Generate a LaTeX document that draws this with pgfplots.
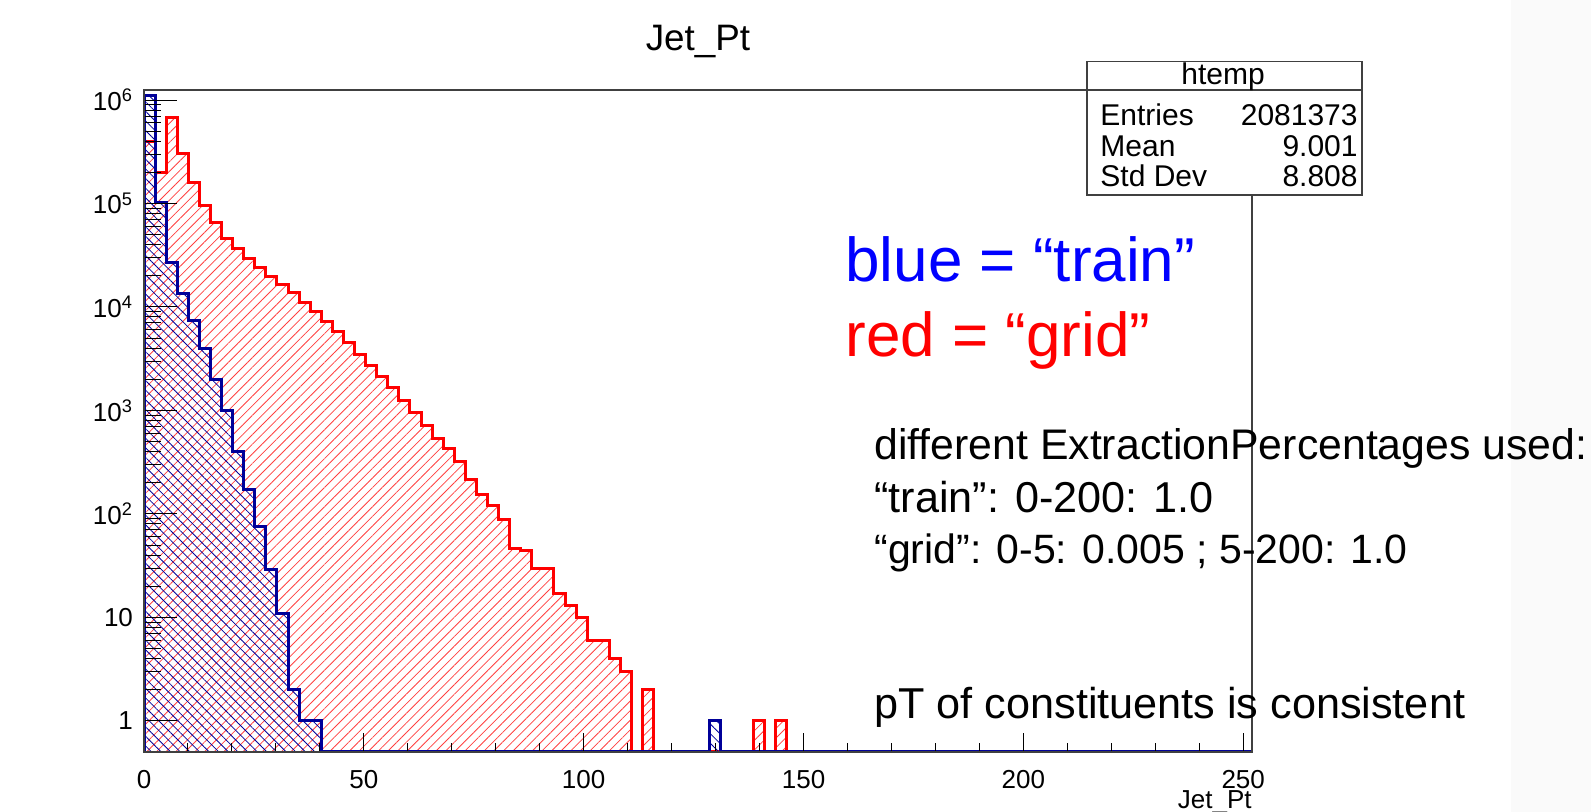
\documentclass[border=0pt]{standalone}
\usepackage{pgfplots}
\usepackage{pgfplotstable}
\pgfplotsset{compat=1.18}
\usepackage{fontspec}
\setmainfont{Liberation Sans}
\usetikzlibrary{patterns.meta}

\definecolor{rootblue}{RGB}{0,0,153}
\definecolor{rootred}{RGB}{255,0,0}
\definecolor{slideblue}{RGB}{0,0,255}

% left bin edges (100 bins over 0-252), counts per bin
\pgfplotstableread{
x y
0 0.5
0 1110000
2.52 102000
5.04 26800
7.56 13600
10.08 7450
12.6 4000
15.12 2000
17.64 990
20.16 402
22.68 172
25.2 76
27.72 29
30.24 11
32.76 2
35.28 1
37.8 1
40.32 0.5
128.52 1
131.04 0.5
252 0.5
}\traintbl

\pgfplotstableread{
x y
0 0.5
0 400000
2.52 199000
5.04 675000
7.56 301000
10.08 160000
12.6 96000
15.12 65000
17.64 46000
20.16 37000
22.68 29700
25.2 23800
27.72 19500
30.24 16400
32.76 13700
35.28 11100
37.8 9100
40.32 7300
42.84 5800
45.36 4500
47.88 3500
50.4 2740
52.92 2120
55.44 1660
57.96 1250
60.48 952
63 723
65.52 535
68.04 428
70.56 318
73.08 217
75.6 155
78.12 120
80.64 88
83.16 46
85.68 44
88.2 30
90.72 30
93.24 17
95.76 13
98.28 10
100.8 6
103.32 6
105.84 4
108.36 3
110.88 0.5
113.4 2
115.92 0.5
138.6 1
141.12 0.5
143.64 1
146.16 0.5
252 0.5
}\gridtbl

\begin{document}
\begin{tikzpicture}
\path[use as bounding box] (0pt,0pt) rectangle (795.5pt,406pt);
\fill[gray!4] (755.5pt,0pt) rectangle (795.5pt,406pt);

\begin{axis}[
  at={(72pt,30pt)}, anchor=south west,
  scale only axis, width=554pt, height=331pt,
  ymode=log, log origin y=infty,
  xmin=0, xmax=252, ymin=0.5, ymax=1.25e6,
  xtick={0,50,100,150,200,250},
  minor x tick num=4,
  ytick={1,10,100,1000,10000,100000,1000000},
  yticklabels={1,10,10\textsuperscript{2},10\textsuperscript{3},10\textsuperscript{4},10\textsuperscript{5},10\textsuperscript{6}},
  /pgf/number format/assume math mode=true,
  tick pos=left, tick align=inside,
  axis on top,
  axis line style={black!75, line width=0.6pt},
  every tick/.style={black, line width=0.5pt},
  xtick style={/pgfplots/major tick length=9.5pt, /pgfplots/minor tick length=4.5pt},
  ytick style={/pgfplots/major tick length=16.5pt, /pgfplots/minor tick length=8.5pt},
  tick label style={font=\fontsize{13}{13}\selectfont},
  xticklabel style={yshift=-5.5pt},
  yticklabel style={xshift=-2pt},
]
\addplot[const plot mark left, draw=rootred, line width=1.5pt,
  pattern={Lines[angle=45,distance=3.4pt,line width=0.4pt]}, pattern color=rootred!75]
  table {\gridtbl};
\addplot[const plot mark left, draw=rootblue, line width=1.5pt,
  pattern={Lines[angle=-45,distance=3.4pt,line width=0.4pt]}, pattern color=rootblue]
  table {\traintbl};
\end{axis}

% title and axis title
\node[font=\fontsize{18.4}{18.4}\selectfont] at (349pt,385pt) {Jet\_Pt};
\node[font=\fontsize{13}{13}\selectfont, anchor=base east, inner sep=0pt] at (626pt,1.6pt) {Jet\_Pt};

% stats box
\draw[fill=white, draw=black!75, line width=0.6pt] (543.5pt,308.5pt) rectangle (681pt,375.2pt);
\draw[black!75, line width=0.6pt] (543.5pt,361pt) -- (681pt,361pt);
\begin{scope}[every node/.style={font=\fontsize{15}{15}\selectfont, inner sep=0pt}]
\node at (611.5pt,367.5pt) {htemp};
\node[anchor=west] at (550pt,348.5pt) {Entries};
\node[anchor=west] at (550pt,333pt) {Mean};
\node[anchor=west] at (550pt,318pt) {Std Dev};
\node[anchor=east] at (679pt,348.5pt) {2081373};
\node[anchor=east] at (679pt,333pt) {9.001};
\node[anchor=east] at (679pt,318pt) {8.808};
\end{scope}

% slide annotations
\begin{scope}[every node/.style={inner sep=0pt, anchor=base west}]
\node[font=\fontsize{31}{31}\selectfont, text=slideblue] at (422.5pt,265pt) {blue = “train”};
\node[font=\fontsize{31}{31}\selectfont, text=red] at (422.5pt,227.5pt) {red = “grid”};
\node[font=\fontsize{21.4}{21.4}\selectfont] at (437pt,176pt) {different ExtractionPercentages used:};
\node[font=\fontsize{21.6}{21.6}\selectfont] at (437pt,149.5pt) {“train”: 0-200: 1.0};
\node[font=\fontsize{20.5}{20.5}\selectfont] at (437pt,124pt) {“grid”: 0-5: 0.005 ; 5-200: 1.0};
\node[font=\fontsize{21.6}{21.6}\selectfont] at (437pt,46.5pt) {pT of constituents is consistent};
\end{scope}
\end{tikzpicture}
\end{document}
